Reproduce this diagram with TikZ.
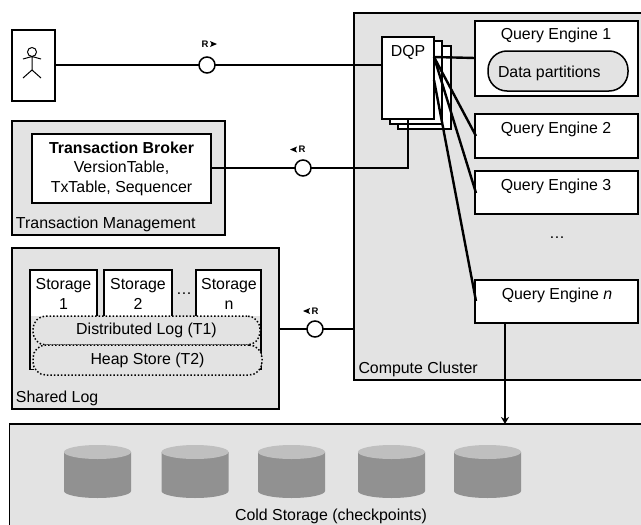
\documentclass[tikz,border=0pt]{standalone}
\usepackage{fontspec}
\setmainfont{Liberation Sans}
\usetikzlibrary{arrows.meta}
\definecolor{panel}{HTML}{E3E3E3}
\definecolor{captop}{HTML}{BFBFBF}
\definecolor{capbody}{HTML}{919191}
\newcommand{\bx}[6][]{\node[#2,minimum width={(#5-#3)*1pt},minimum height={(#6-#4)*1pt},#1] at ({(#3+#5)/2},{(#4+#6)/2})}
\newcommand{\cyl}[1]{%
 \fill[capbody] (#1,452) -- (#1,491) arc[start angle=180,end angle=0,x radius=33.5,y radius=7] -- (#1+67,452) -- cycle;
 \fill[captop] (#1+33.5,452) ellipse[x radius=33.5,y radius=7];}
\tikzset{
 every node/.style={font=\fontsize{15.9}{19.5}\selectfont,inner sep=0pt,outer sep=0pt},
 panelbox/.style={draw=black,line width=1.5pt,fill=panel},
 whitebox/.style={draw=black,line width=1.5pt,fill=white},
 dotbox/.style={draw=black,line width=1.5pt,dotted,rounded corners=13pt},
 conn/.style={draw=black,line width=2.4pt},
 iface/.style={circle,draw=black,line width=1.5pt,fill=white,minimum size=16pt},
 rlabel/.style={font=\fontsize{9.5}{11}\selectfont\bfseries},
 tip/.style={fill=black,draw=none},
 caption/.style={anchor=base west}
}
\begin{document}
\begin{tikzpicture}[x=1pt,y=-1pt]
\clip (0,0) rectangle (641,525);
\fill[white] (0,0) rectangle (641,525);
% panels
\bx[]{panelbox}{354}{13}{660}{380} (cluster) {};
\bx[]{panelbox}{9.5}{424}{660}{540} (cold) {};
\bx[]{panelbox}{12}{121}{225}{235} (tm) {};
\bx[]{panelbox}{12}{248}{279}{409} (sl) {};
% actor
\bx[]{whitebox}{12}{30}{55}{101} (actor) {};
\draw[line width=1pt] (32,52) circle[radius=4.5];
\draw[line width=1pt] (32,56.5) -- (32,70) (23,59) -- (32,56.5) -- (41,59) (23,78) -- (32,70) -- (41,78);
% broker
\bx[align=center]{whitebox}{32}{134}{211}{203} (broker) {\textbf{Transaction Broker}\\VersionTable,\\TxTable, Sequencer};
% storage
\bx[]{whitebox}{30}{270}{97}{369} (s1) {};
\bx[]{whitebox}{104}{270}{172}{369} (s2) {};
\bx[]{whitebox}{196}{270}{261}{369} (sn) {};
\node[align=center,anchor=north] (s1t) at (63.5,278.5) {Storage\\1};
\node[align=center,anchor=north] (s2t) at (138,278.5) {Storage\\2};
\node[align=center,anchor=north] (snt) at (229,278.5) {Storage\\n};
\node (sdots) at (184,294) {\ldots};
\bx[]{panelbox,draw=none}{31}{316}{260}{375} (logbg) {};
\draw[line width=1.5pt] (30,350) -- (30,369.5) -- (34,369.5) (261,350) -- (261,369.5);
\bx[rounded corners=13pt]{dotbox,fill=panel}{33}{316}{260}{345} (dlog) {Distributed Log (T1)};
\bx[rounded corners=13pt]{dotbox,fill=panel}{33}{345}{262}{375} (heap) {Heap Store (T2)};
% DQP
\bx[]{whitebox}{398}{46}{451}{129} (dqp3) {};
\bx[]{whitebox}{390}{41}{442}{124} (dqp2) {};
\bx[]{whitebox}{382}{37}{434}{119} (dqp1) {};
\node (dqpt) at (408,52) {DQP};
% query engines
\bx[]{whitebox}{475}{21}{638}{96} (q1) {};
\node (q1t) at (556,35.5) {Query Engine 1};
\bx[]{panelbox,rounded corners=19pt}{488}{51}{628}{91} (parts) {};
\node[anchor=west] (partst) at (498,73.5) {Data partitions};
\bx[]{whitebox}{475}{114}{638}{158} (q2) {};
\node (q2t) at (556,129) {Query Engine 2};
\bx[]{whitebox}{475}{171}{638}{214} (q3) {};
\node (q3t) at (556,186) {Query Engine 3};
\node (qdots) at (557,238) {\ldots};
\bx[]{whitebox}{475}{280}{638}{323} (qn) {};
\node (qnt) at (557,295) {Query Engine \textit{n}};
% interfaces
\node[iface] (ra) at (207,65) {};
\node[iface] (rb) at (303,168) {};
\node[iface] (rc) at (315,329) {};
\node[rlabel] (rat) at (205,44) {R};
\node[rlabel] (rbt) at (302,149.5) {R};
\node[rlabel] (rct) at (315,311) {R};
\fill[tip] (210,41) -- (217,44) -- (210,47) -- (211.5,44) -- cycle;
\fill[tip] (297,146.5) -- (290,149.5) -- (297,152.5) -- (295.5,149.5) -- cycle;
\fill[tip] (310,308) -- (303,311) -- (310,314) -- (308.5,311) -- cycle;
% connectors
\draw[conn] (actor.east |- ra) -- (ra.west);
\draw[conn] (ra.east) -- (ra -| dqp1.west);
\coordinate (dqpdrop) at (408,119);
\draw[conn] (broker.east |- rb) -- (rb.west);
\draw[conn,line join=miter] (rb.east) -- (rb -| dqpdrop) -- (dqpdrop);
\draw[conn] (sl.east |- rc) -- (rc.west);
\draw[conn] (rc.east) -- (rc -| cluster.west);
\coordinate (dqpout) at (434,57);
\coordinate (dqplow) at (434,80);
\coordinate (q1in) at (475,58);
\coordinate (q2in) at (476,136);
\coordinate (q3in) at (476,193);
\coordinate (qnin) at (476,301);
\draw[conn] (dqpout) -- (q1in);
\draw[conn] (dqpout) -- (q2in);
\draw[conn] (dqpout) -- (q3in);
\draw[conn] (dqplow) -- (qnin);
\coordinate (qnout) at (505,323);
\draw[conn,-{Stealth[length=7pt,width=8pt]}] (qnout) -- (qnout |- cold.north);
% captions
\node[caption] (tmt) at (16,228) {Transaction Management};
\node[caption] (slt) at (16,402) {Shared Log};
\node[caption] (cct) at (358.5,373) {Compute Cluster};
% cylinders
\cyl{64}\cyl{161.5}\cyl{258}\cyl{358}\cyl{454}
\node (coldt) at (331,516.5) {Cold Storage (checkpoints)};
\end{tikzpicture}
\end{document}
